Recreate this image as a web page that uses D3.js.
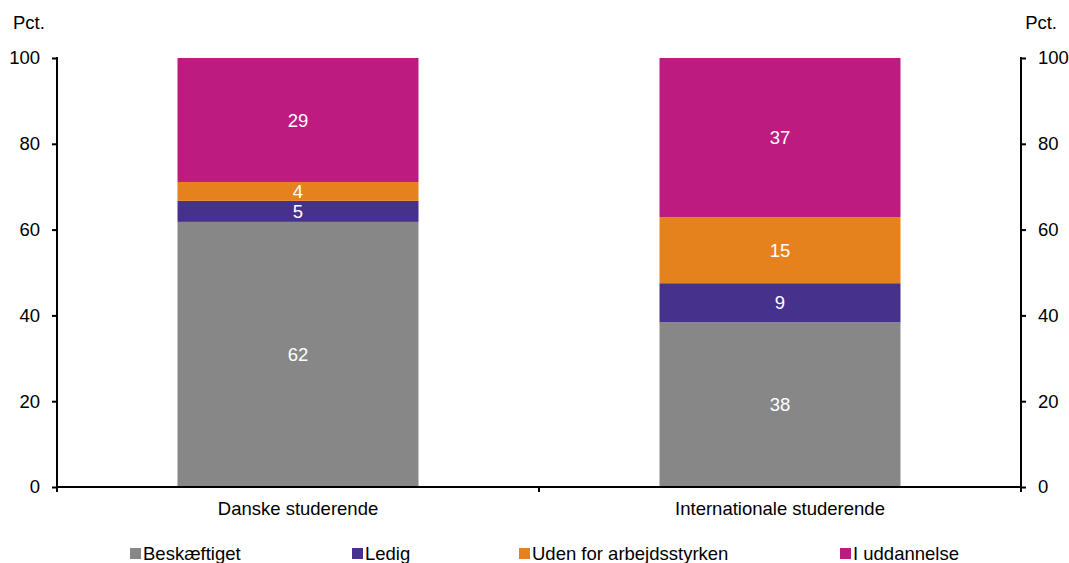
<!DOCTYPE html>
<html><head><meta charset="utf-8">
<script src="https://cdn.jsdelivr.net/npm/d3@7"></script>
<style>body{margin:0;background:#fff}svg{display:block}text{font-family:"Liberation Sans",Arial,sans-serif}</style>
</head><body><svg id="c" width="1069" height="563"></svg>
<script>
const categories = ["Danske studerende", "Internationale studerende"];
const seriesNames = ["Beskæftiget", "Ledig", "Uden for arbejdsstyrken", "I uddannelse"];
const beskaeftiget = [61.8, 38.4];
const ledig = [4.9, 9.1];
const udenFor = [4.4, 15.4];
const iUddannelse = [28.9, 37.1];
const yTicks = [0, 20, 40, 60, 80, 100];
const colors = ["#878787", "#46318c", "#e6821e", "#be1b80"];

const FS = 18.5;
const seriesValues = [beskaeftiget, ledig, udenFor, iUddannelse];
const rows = categories.map((c, i) => {
  const r = {cat: c};
  seriesNames.forEach((s, j) => r[s] = seriesValues[j][i]);
  return r;
});
const stack = d3.stack().keys(seriesNames)(rows);

const svg = d3.select("#c");
const L = 57, R = 1021, T = 58, B = 487;
const x = d3.scaleBand().domain(categories).range([L, R]).paddingInner(0.5).paddingOuter(0.25);
const y = d3.scaleLinear().domain([0, 100]).range([B, T]);

// bars
const g = svg.append("g");
stack.forEach((layer, j) => {
  g.selectAll(null).data(layer).enter().append("rect")
    .attr("x", d => x(d.data.cat))
    .attr("width", x.bandwidth())
    .attr("y", d => y(d[1]))
    .attr("height", d => y(d[0]) - y(d[1]))
    .attr("fill", colors[j]);
  g.selectAll(null).data(layer).enter().append("text")
    .attr("x", d => x(d.data.cat) + x.bandwidth() / 2)
    .attr("y", d => (y(d[0]) + y(d[1])) / 2)
    .attr("dy", "0.36em")
    .attr("text-anchor", "middle")
    .attr("fill", "#fff")
    .attr("font-size", FS)
    .text(d => d3.format(".0f")(d[1] - d[0]));
});

// axes
const yl = svg.append("g").attr("transform", `translate(${L},0)`)
  .call(d3.axisLeft(y).tickValues(yTicks).tickSize(5).tickPadding(12));
const yr = svg.append("g").attr("transform", `translate(${R},0)`)
  .call(d3.axisRight(y).tickValues(yTicks).tickSize(5).tickPadding(12));
[yl, yr].forEach(a => {
  a.select(".domain").remove();
  a.selectAll("line").attr("stroke", "#000").attr("stroke-width", 2);
  a.selectAll("text").attr("font-size", FS).attr("fill", "#000").style("font-family", '"Liberation Sans",Arial,sans-serif');
});
svg.append("line").attr("x1", L).attr("x2", L).attr("y1", T - 1).attr("y2", B + 1).attr("stroke", "#000").attr("stroke-width", 2);
svg.append("line").attr("x1", R).attr("x2", R).attr("y1", T - 1).attr("y2", B + 1).attr("stroke", "#000").attr("stroke-width", 2);

const xa = svg.append("g").attr("transform", `translate(0,${B})`)
  .call(d3.axisBottom(x).tickSize(0).tickPadding(15));
xa.select(".domain").attr("d", `M${L - 1},0H${R + 1}`).attr("stroke", "#000").attr("stroke-width", 2);
xa.selectAll("text").attr("font-size", FS).attr("fill", "#000").style("font-family", '"Liberation Sans",Arial,sans-serif');
const bTicks = [L, (x(categories[0]) + x.bandwidth() + x(categories[1])) / 2, R];
xa.selectAll(".btick").data(bTicks).enter().append("line")
  .attr("x1", d => d).attr("x2", d => d).attr("y1", 0).attr("y2", 5)
  .attr("stroke", "#000").attr("stroke-width", 2);

// Pct labels
svg.append("text").attr("x", 13).attr("y", 29).attr("font-size", FS).text("Pct.");
svg.append("text").attr("x", 1057).attr("y", 29).attr("font-size", FS).attr("text-anchor", "end").text("Pct.");

// legend
const legX = [130, 352, 519, 840];
const leg = svg.append("g");
seriesNames.forEach((s, j) => {
  leg.append("rect").attr("x", legX[j]).attr("y", 548).attr("width", 11).attr("height", 11).attr("fill", colors[j]);
  leg.append("text").attr("x", legX[j] + 13).attr("y", 560).attr("font-size", FS).text(s);
});
</script></body></html>
